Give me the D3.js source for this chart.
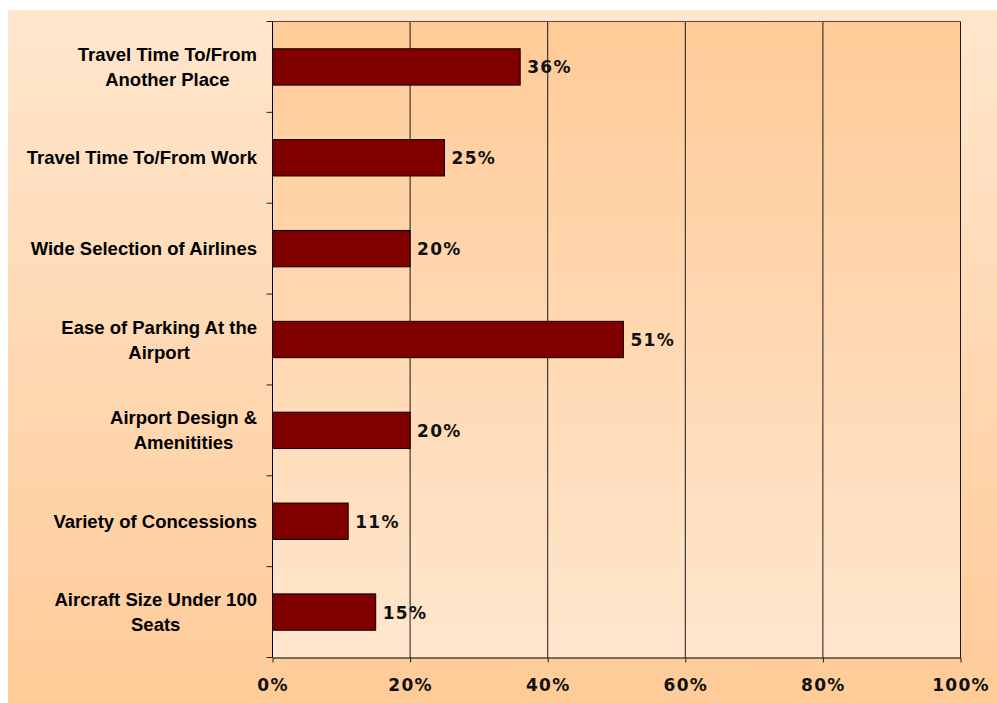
<!DOCTYPE html>
<html>
<head>
<meta charset="utf-8">
<script src="https://cdn.jsdelivr.net/npm/d3@7"></script>
<style>
  html, body { margin: 0; padding: 0; background: #ffffff; overflow: hidden; }
  svg { display: block; }
</style>
</head>
<body>
<svg id="chart" width="997" height="703"></svg>
<script>
// Survey factors (line breaks mark where a label wraps) and share of respondents
const categories = [
  "Travel Time To/From\nAnother Place",
  "Travel Time To/From Work",
  "Wide Selection of Airlines",
  "Ease of Parking At the\nAirport",
  "Airport Design &\nAmenitities",
  "Variety of Concessions",
  "Aircraft Size Under 100\nSeats"
];
const values = [0.36, 0.25, 0.20, 0.51, 0.20, 0.11, 0.15];
const xTicks = [0, 0.2, 0.4, 0.6, 0.8, 1.0];

const svg = d3.select("#chart");
const W = 997, H = 703;
const plot = { left: 272.5, right: 960.5, top: 21.5, bottom: 657.5 };

const defs = svg.append("defs");
const outerGrad = defs.append("linearGradient")
  .attr("id", "outerFill").attr("x1", 0).attr("y1", 0).attr("x2", 0).attr("y2", 1);
outerGrad.append("stop").attr("offset", "0%").attr("stop-color", "#ffe6cd");
outerGrad.append("stop").attr("offset", "100%").attr("stop-color", "#ffcb98");

const plotGrad = defs.append("linearGradient")
  .attr("id", "plotFill").attr("x1", 0).attr("y1", 0).attr("x2", 0).attr("y2", 1);
plotGrad.append("stop").attr("offset", "0%").attr("stop-color", "#ffcb98");
plotGrad.append("stop").attr("offset", "100%").attr("stop-color", "#ffe6cd");

// Chart background and plot area
svg.append("rect").attr("x", 8).attr("y", 10).attr("width", W - 8).attr("height", H - 10)
  .attr("fill", "url(#outerFill)");
svg.append("rect")
  .attr("x", plot.left).attr("y", plot.top)
  .attr("width", plot.right - plot.left).attr("height", plot.bottom - plot.top)
  .attr("fill", "url(#plotFill)");

const x = d3.scaleLinear().domain([0, 1]).range([plot.left, plot.right]);
const y = d3.scaleBand().domain(categories)
  .range([plot.top, plot.bottom]).paddingInner(0.6).paddingOuter(0.3);
const yCell = d3.scaleBand().domain(categories).range([plot.top, plot.bottom]).padding(0);

// Vertical gridlines
svg.append("g").selectAll("line")
  .data(xTicks.filter(t => t > 0))
  .join("line")
  .attr("x1", d => x(d)).attr("x2", d => x(d))
  .attr("y1", plot.top).attr("y2", plot.bottom)
  .attr("stroke", "#1a1a1a").attr("stroke-width", 1);

// Top border of plot area
svg.append("line")
  .attr("x1", plot.left).attr("x2", plot.right)
  .attr("y1", plot.top).attr("y2", plot.top)
  .attr("stroke", "#5a4a3c").attr("stroke-width", 1);

// Bars
svg.append("g").selectAll("rect")
  .data(values)
  .join("rect")
  .attr("x", x(0))
  .attr("y", (d, i) => y(categories[i]))
  .attr("width", d => x(d) - x(0))
  .attr("height", y.bandwidth())
  .attr("fill", "#800000")
  .attr("stroke", "#000000").attr("stroke-width", 1);

// Value labels
svg.append("g").selectAll("text")
  .data(values)
  .join("text")
  .attr("x", d => x(d) + 7)
  .attr("y", (d, i) => y(categories[i]) + y.bandwidth() / 2 + 6.5)
  .attr("font-family", "'DejaVu Sans', Verdana, sans-serif")
  .attr("font-weight", "bold")
  .attr("font-size", 17)
  .attr("letter-spacing", "1.3px")
  .attr("fill", "#111111")
  .text(d => d3.format(".0%")(d));

// Left axis: line plus ticks at category boundaries
const yAxis = svg.append("g");
yAxis.append("line")
  .attr("x1", plot.left).attr("x2", plot.left)
  .attr("y1", plot.top).attr("y2", plot.bottom)
  .attr("stroke", "#000").attr("stroke-width", 1);
const boundaries = categories.map(c => yCell(c)).concat([plot.bottom]);
yAxis.selectAll("line.tick")
  .data(boundaries)
  .join("line").attr("class", "tick")
  .attr("x1", plot.left - 6).attr("x2", plot.left)
  .attr("y1", d => d).attr("y2", d => d)
  .attr("stroke", "#222").attr("stroke-width", 1);

// Category labels: centred block, right edge aligned next to the axis
const labelRight = 257;
const lineGap = 25;
const catLabels = svg.append("g")
  .attr("font-family", "'Liberation Sans', Arial, sans-serif")
  .attr("font-weight", "bold")
  .attr("font-size", 18.5)
  .attr("fill", "#000");
categories.forEach(c => {
  const lines = c.split("\n");
  const cy = yCell(c) + yCell.bandwidth() / 2;
  const t = catLabels.append("text").attr("text-anchor", "middle");
  const first = cy + 6.5 - (lines.length - 1) * lineGap / 2;
  lines.forEach((ln, k) => {
    t.append("tspan").attr("y", first + k * lineGap).text(ln);
  });
  let maxW = 0;
  t.selectAll("tspan").each(function () {
    maxW = Math.max(maxW, this.getComputedTextLength());
  });
  t.selectAll("tspan").attr("x", labelRight - maxW / 2);
});

// Bottom axis
const xAxis = svg.append("g")
  .attr("transform", `translate(0,${plot.bottom})`)
  .call(d3.axisBottom(x).tickValues(xTicks).tickFormat(d3.format(".0%")).tickSizeInner(5).tickSizeOuter(0));
xAxis.select(".domain").attr("stroke", "#000");
xAxis.selectAll(".tick line").attr("stroke", "#222");
xAxis.selectAll(".tick text")
  .attr("y", 33.5).attr("dy", null)
  .attr("font-family", "'DejaVu Sans', Verdana, sans-serif")
  .attr("font-weight", "bold")
  .attr("font-size", 17)
  .attr("letter-spacing", "1.3px")
  .attr("fill", "#111111");
</script>
</body>
</html>
